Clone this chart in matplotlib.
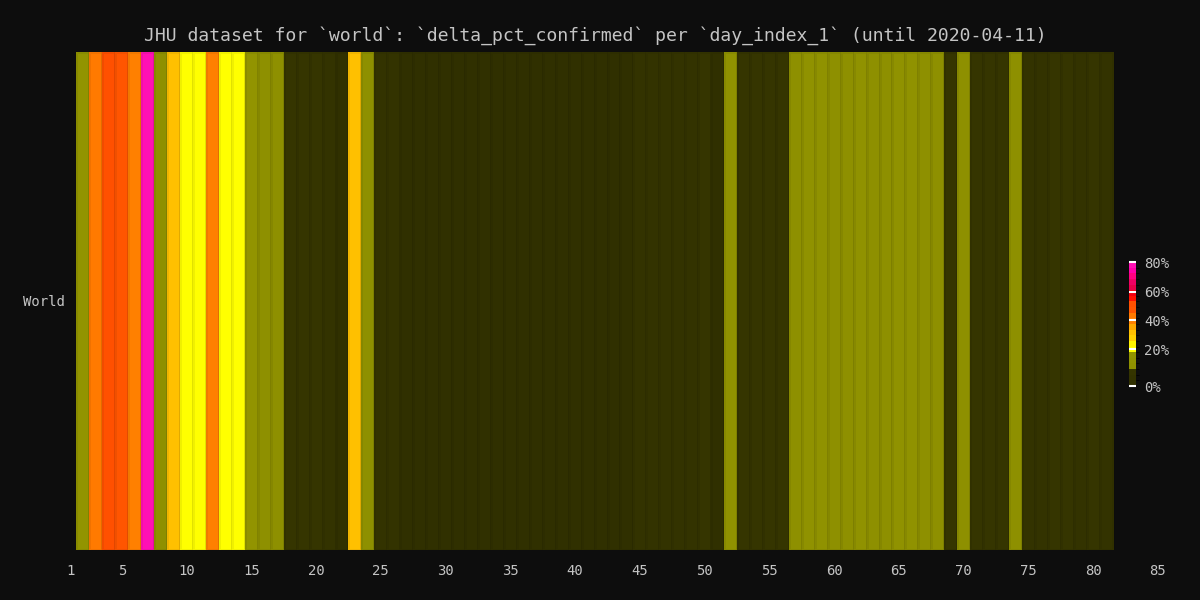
import numpy as np
import matplotlib
matplotlib.use('Agg')
import matplotlib.pyplot as plt
from matplotlib.colors import ListedColormap, BoundaryNorm

# day_index_1 = 2..81, daily % change of confirmed cases (world)
days = list(range(2, 82))
delta_pct = [
    17.8, 43.9, 52.4, 47.7, 38.2, 90.6, 10.5, 33.5, 20.6, 21.3,
    39.5, 18.5, 20.2, 15.7, 11.4, 11.7, 7.9, 8.2, 6.5, 4.8,
    0.9, 33.5, 10.8, 3.2, 3.2, 2.9, 2.6, 0.7, 0.7, 0.8,
    2.3, 0.5, 0.7, 1.1, 1.2, 1.7, 1.7, 2.2, 2.8, 2.2,
    2.8, 2.5, 2.9, 4.0, 4.0, 3.8, 3.4, 4.4, 6.1, 2.0,
    13.1, 7.5, 7.3, 8.4, 8.6, 9.3, 12.9, 12.1, 11.9, 10.6,
    12.3, 10.5, 11.9, 13.2, 12.0, 11.4, 9.4, 8.6, 9.6, 8.8,
    8.6, 8.2, 9.3, 5.9, 5.7, 6.0, 6.0, 5.6, 6.0, 4.7,
]
row_labels = ['World']
x_ticks = [1, 5, 10, 15, 20, 25, 30, 35, 40, 45, 50, 55, 60, 65, 70, 75, 80, 85]
cbar_ticks = [0, 20, 40, 60, 80]
title = "JHU dataset for `world`: `delta_pct_confirmed` per `day_index_1` (until 2020-04-11)"

# stepped colour scale (22 bands)
bounds = [0, 3, 6, 9, 12, 15, 18, 22, 26, 30, 34, 38, 41, 45, 49, 53, 57, 61, 64, 67, 70, 75, 80]
colors = ['#303000', '#333300', '#353500',
          '#8e9000', '#909200', '#929400',
          '#ffff00', '#fff400',
          '#ffd000', '#ffc000', '#ffa800',
          '#ff8000', '#ff7a00',
          '#ff5500', '#ff5000',
          '#ff1000', '#f20010',
          '#e8004a', '#f00064', '#ff0080',
          '#ff00a8', '#ff10b4']
cmap = ListedColormap(colors)
norm = BoundaryNorm(bounds, cmap.N, clip=True)

bg = '#0d0d0d'
fg = '#c4c4c4'
mono = ['DejaVu Sans Mono']

fig = plt.figure(figsize=(12, 6), dpi=100, facecolor=bg)
ax = fig.add_axes([70 / 1200, 50 / 600, 1088 / 1200, 498 / 600])
ax.set_facecolor(bg)

x_edges = np.arange(days[0] - 0.5, days[-1] + 1.0, 1.0)
y_edges = np.array([0, 1])
vals = np.array(delta_pct).reshape(1, -1)
ax.pcolormesh(x_edges, y_edges, vals, cmap=cmap, norm=norm,
              edgecolors=(0, 0, 0, 0.06), linewidth=0.8)

ax.set_xlim(1, 85)
ax.set_ylim(0, 1)
ax.set_xticks(x_ticks)
ax.set_xticklabels([str(t) for t in x_ticks], family=mono, fontsize=10, color=fg)
ax.set_yticks([0.5])
ax.set_yticklabels(row_labels, family=mono, fontsize=10, color=fg)
ax.tick_params(length=0, pad=10)
ax.tick_params(axis='y', pad=4)
for s in ax.spines.values():
    s.set_visible(False)

fig.text(595 / 1200, 1 - 36 / 600, title, ha='center', va='center',
         family=mono, fontsize=13.1, color=fg)

# colour bar
cax = fig.add_axes([1129 / 1200, 214 / 600, 7 / 1200, 124 / 600])
sm = plt.cm.ScalarMappable(cmap=cmap, norm=norm)
cb = fig.colorbar(sm, cax=cax, ticks=cbar_ticks)
cb.outline.set_visible(False)
cb.ax.set_yticklabels([f'{t}%' for t in cbar_ticks], family=mono, fontsize=10, color=fg)
cb.ax.tick_params(direction='in', length=5, width=1.5, color='white', pad=6)

fig.savefig('out.png', dpi=100, facecolor=bg)
